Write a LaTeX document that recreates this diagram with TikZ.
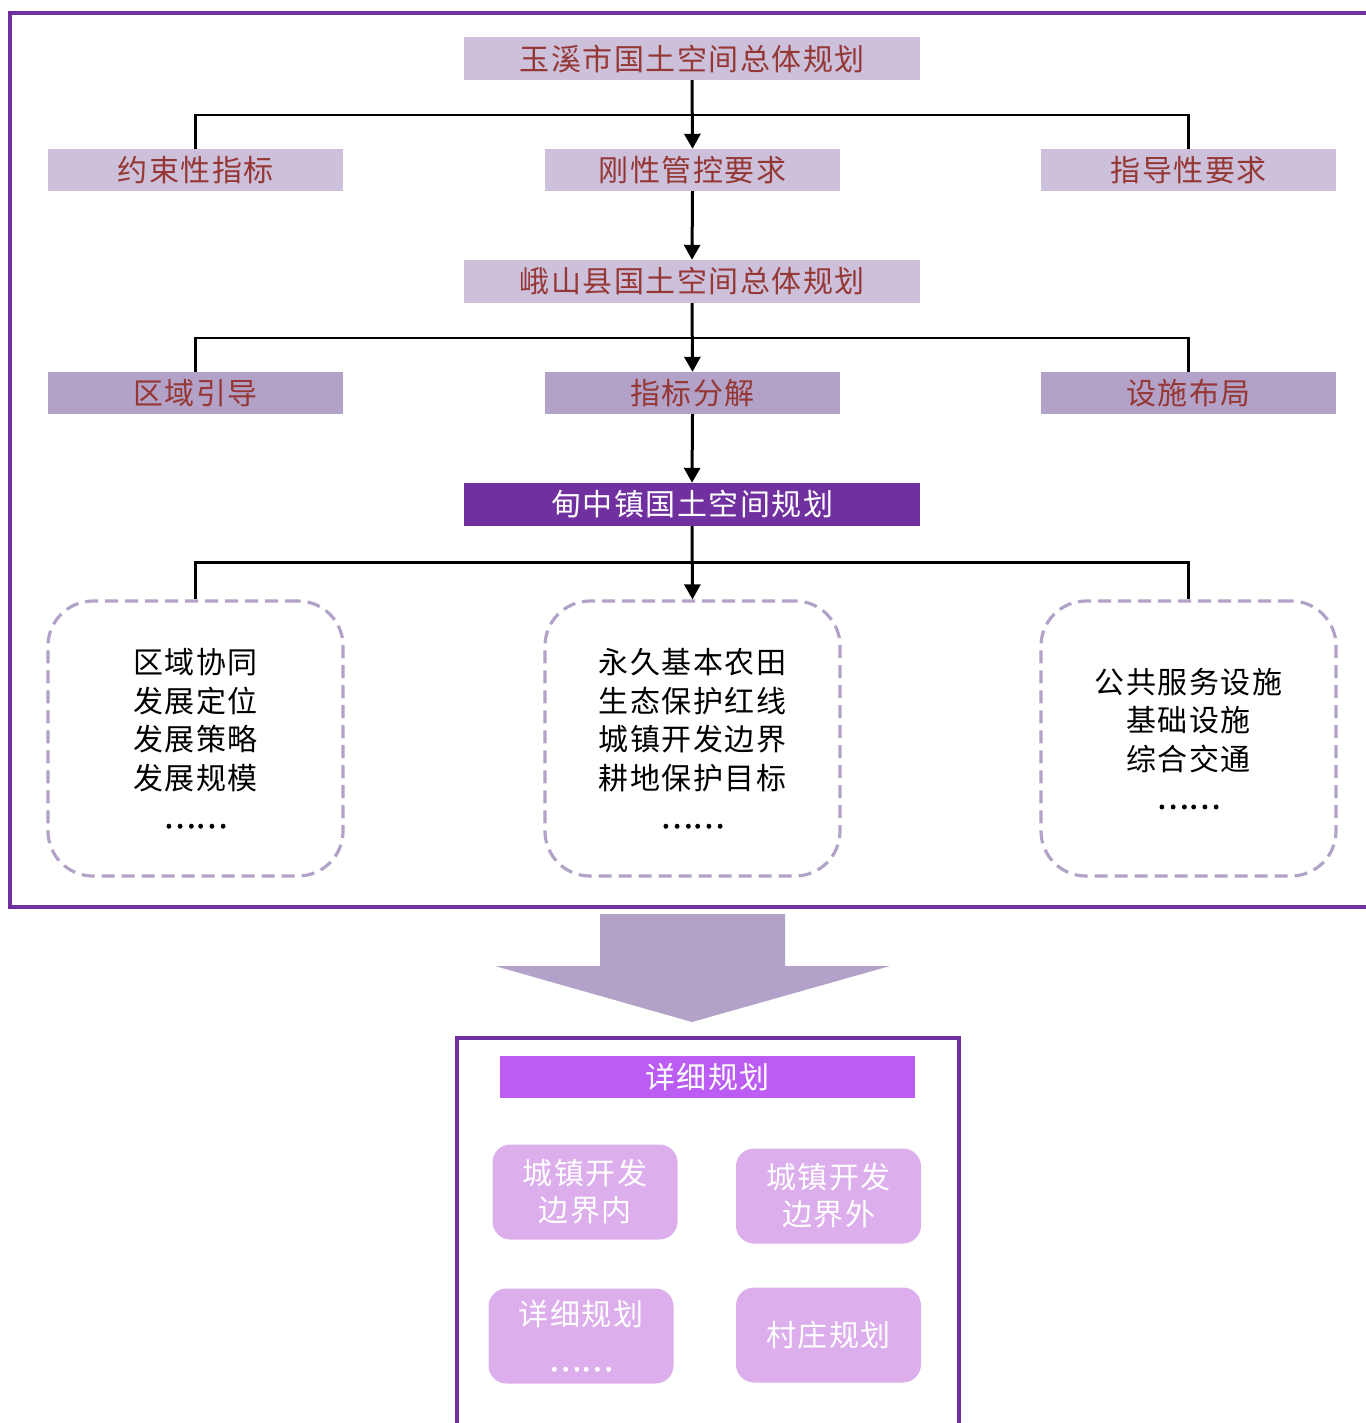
\documentclass[tikz,border=0pt]{standalone}
\usepackage{fontspec}
\newfontfamily\cjk[LetterSpace=5]{Noto Sans CJK SC}
\newfontfamily\cjkdots[FakeBold=2.5]{Noto Sans CJK SC}
\usetikzlibrary{arrows.meta,calc}
\definecolor{lav}{HTML}{CCC0DA}
\definecolor{lavd}{HTML}{B3A2C7}
\definecolor{purp}{HTML}{7030A0}
\definecolor{dred}{HTML}{953735}
\definecolor{viol}{HTML}{BB5CF2}
\definecolor{orch}{HTML}{DCAEEC}
\newcommand{\mydots}{{\cjkdots ……}}
\begin{document}
\begin{tikzpicture}[x=1pt,y=-1pt,
  font=\cjk\fontsize{30}{38.5}\selectfont,
  wide/.style={fill=lav, text=dred, minimum width=456pt, minimum height=43pt, inner sep=0pt},
  lvl2/.style={fill=lav, text=dred, minimum width=295pt, minimum height=42pt, inner sep=0pt},
  lvl4/.style={fill=lavd, text=dred, minimum width=295pt, minimum height=42pt, inner sep=0pt},
  town/.style={fill=purp, text=white, minimum width=456pt, minimum height=43pt, inner sep=0pt},
  dbox/.style={draw=lavd, line width=3.2pt, dash pattern=on 13pt off 7pt, rounded corners=45pt,
    minimum width=295pt, minimum height=275pt, align=center, inner sep=0pt},
  sbox/.style={fill=orch, text=white, rounded corners=18pt, minimum width=185pt, minimum height=95pt,
    align=center, inner sep=0pt, font=\cjk\fontsize{30}{37}\selectfont},
  arr/.style={line width=3pt, -{Triangle[length=15pt,width=16pt]}},
  bar/.style={line width=2.5pt},
  frame/.style={draw=purp, line width=3.5pt}
]
\useasboundingbox (0,0) rectangle (1365,1423);

% outer frame
\draw[frame] (1370,13) -- (10,13) -- (10,907) -- (1370,907);

% level 1
\node[wide] (yx) at (692,58.5) {\raisebox{-2pt}{玉溪市国土空间总体规划}};
% level 2
\node[lvl2] (ys) at (195.5,170) {\raisebox{-2pt}{约束性指标}};
\node[lvl2] (gx) at (692.5,170) {\raisebox{-2pt}{刚性管控要求}};
\node[lvl2] (zd) at (1188.5,170) {\raisebox{-2pt}{指导性要求}};
% level 3
\node[wide] (es) at (692,281.5) {\raisebox{-2pt}{峨山县国土空间总体规划}};
% level 4
\node[lvl4] (qy) at (195.5,393) {\raisebox{-2pt}{区域引导}};
\node[lvl4] (zb) at (692.5,393) {\raisebox{-2pt}{指标分解}};
\node[lvl4] (ss) at (1188.5,393) {\raisebox{-2pt}{设施布局}};
% level 5
\node[town] (dz) at (692,504.5) {\raisebox{-2pt}{甸中镇国土空间规划}};
% level 6
\node[dbox] (d1) at (195.5,738.5) {区域协同\\发展定位\\发展策略\\发展规模\\\mydots};
\node[dbox] (d2) at (692.5,738.5) {永久基本农田\\生态保护红线\\城镇开发边界\\耕地保护目标\\\mydots};
\node[dbox] (d3) at (1188.5,738.5) {公共服务设施\\基础设施\\综合交通\\\mydots};

% branch bars
\draw[bar] (ys.north) -- ($(ys.north)+(0,-34)$) -| (zd.north);
\draw[bar] (qy.north) -- ($(qy.north)+(0,-34)$) -| (ss.north);
\draw[bar] (d1.north) -- ($(d1.north)+(0,-37)$) -| (d3.north);

% arrows
\draw[arr] (yx.south) -- (gx.north);
\draw[arr] (gx.south) -- (es.north);
\draw[arr] (es.south) -- (zb.north);
\draw[arr] (zb.south) -- (dz.north);
\draw[arr] (dz.south) -- (d2.north);

% big down arrow
\fill[lavd] (600,914) -- (785,914) -- (785,966) -- (890,966) -- (692,1022) -- (495,966) -- (600,966) -- cycle;

% bottom frame
\draw[frame] (457,1430) -- (457,1038) -- (959,1038) -- (959,1430);
\node[fill=viol, text=white, minimum width=415pt, minimum height=42pt, inner sep=0pt] (xx) at (707.5,1077) {\raisebox{-2pt}{详细规划}};

\node[sbox] (b1) at (585,1192) {城镇开发\\边界内};
\node[sbox] (b2) at (828.5,1196) {城镇开发\\边界外};
\node[sbox] (b3) at (581,1336) {详细规划\\[8pt]\mydots};
\node[sbox] (b4) at (828.5,1335) {村庄规划};
\end{tikzpicture}
\end{document}
